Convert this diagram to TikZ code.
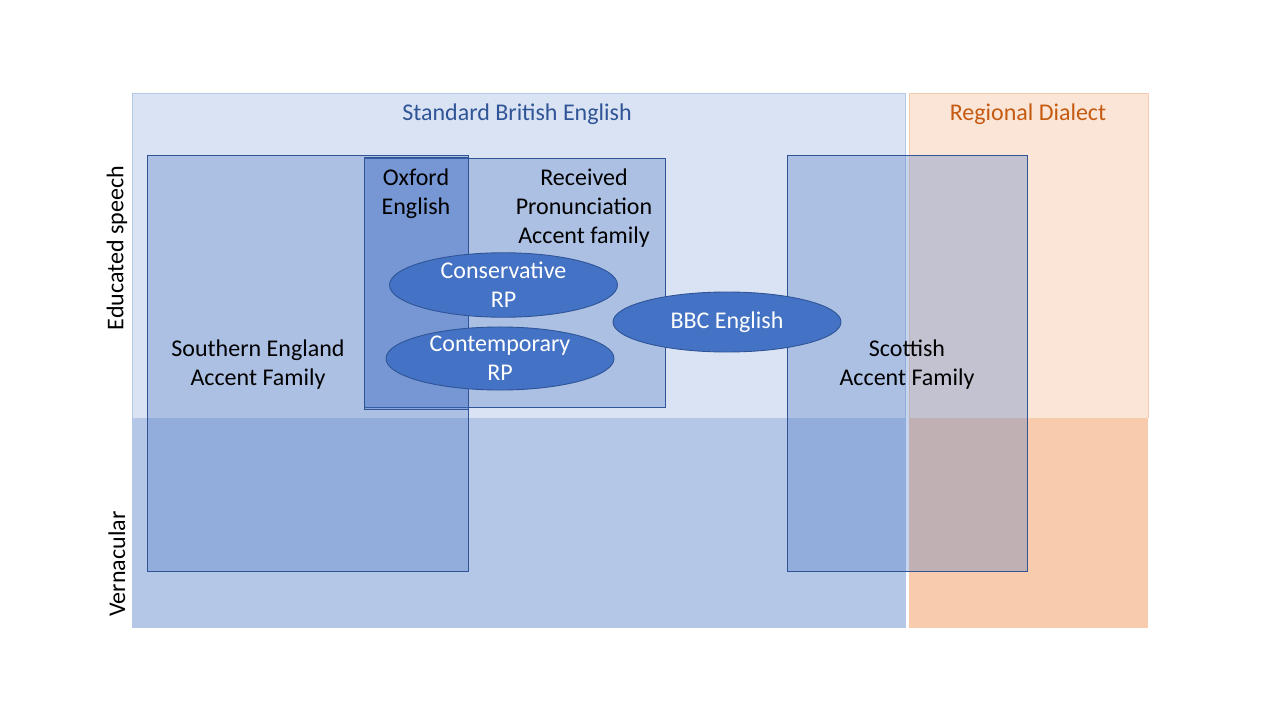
\documentclass[tikz,border=0pt]{standalone}
\usepackage{fontspec}
\setmainfont{Carlito}
\usetikzlibrary{shapes.geometric}
\definecolor{stdtop}{HTML}{DAE3F3}
\definecolor{stdbot}{HTML}{B4C7E7}
\definecolor{regtop}{HTML}{FBE5D6}
\definecolor{regbot}{HTML}{F8CBAD}
\definecolor{accblue}{HTML}{4472C4}
\definecolor{darkblue}{HTML}{2F5597}
\definecolor{stdtext}{HTML}{2F5597}
\definecolor{regtext}{HTML}{C55A11}
\definecolor{stdline}{HTML}{B4C7E7}
\definecolor{regline}{HTML}{F4CBAE}
\tikzset{
  family/.style={fill=accblue, fill opacity=0.3, draw=darkblue, draw opacity=1, line width=0.9pt},
  variety/.style={ellipse, fill=accblue, draw=darkblue, line width=0.9pt, text=white, align=center,
    minimum width=228pt, minimum height=60pt, inner sep=0pt},
  lbl/.style={align=center, inner sep=0pt, text=black},
  axislbl/.style={inner sep=0pt, text=black, rotate=90},
}
\begin{document}
\begin{tikzpicture}[x=1pt,y=-1pt,font=\fontsize{24}{29}\selectfont]
\useasboundingbox (0,0) rectangle (1280,720);
\fill[white] (0,0) rectangle (1280,720);
% regions
\fill[stdtop] (132,93) rectangle (905.5,418);
\fill[stdbot] (132,418) rectangle (905.5,628);
\draw[stdline, line width=0.9pt] (132,418) -- (132,93) -- (905.5,93) -- (905.5,418);
\fill[regtop] (909,93) rectangle (1148,418);
\fill[regbot] (909,418) rectangle (1148,628);
\draw[regline, line width=0.9pt] (909,418) -- (909,93) -- (1148,93) -- (1148,418);
% accent families
\draw[family] (147,155) rectangle (468,571);
\draw[family] (364,158) rectangle (665,407);
\draw[family] (364,157) rectangle (468,409);
\draw[family] (787,155) rectangle (1027,571);
% varieties
\node[variety] (cons) at (503.5,285) {Conservative\\RP};
\node[variety] (cont) at (500,358.5) {Contemporary\\RP};
\node[variety] (bbc) at (727,322) {BBC English};
% labels
\node[lbl, text=stdtext] (std) at (517,114) {Standard British English};
\node[lbl, text=regtext] (reg) at (1028,114) {Regional Dialect};
\node[lbl] (oxf) at (416,194) {Oxford\\English};
\node[lbl] (rp) at (584,208) {Received\\Pronunciation\\Accent family};
\node[lbl] (south) at (258,365) {Southern England\\Accent Family};
\node[lbl] (scot) at (907,365) {Scottish\\Accent Family};
\node[axislbl] (edu) at (117,248) {Educated speech};
\node[axislbl] (vern) at (117,564) {Vernacular};
\end{tikzpicture}
\end{document}
